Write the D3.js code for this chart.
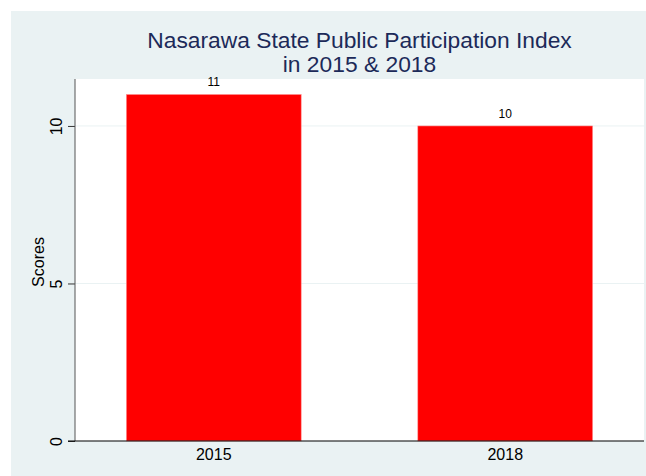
<!DOCTYPE html>
<html>
<head>
<meta charset="utf-8">
<script src="https://cdn.jsdelivr.net/npm/d3@7"></script>
<style>
  html, body { margin: 0; padding: 0; background: #ffffff; }
  svg { display: block; font-family: "Liberation Sans", Arial, Helvetica, sans-serif; }
</style>
</head>
<body>
<svg id="chart" width="646" height="476"></svg>
<script>
const categories = ["2015", "2018"];
const scores = [11, 10];
const yTicks = [0, 5, 10];
const titleLines = ["Nasarawa State Public Participation Index", "in 2015 & 2018"];
const yAxisTitle = "Scores";

const svg = d3.select("#chart");
const W = 646, H = 476;
const plot = { left: 75, right: 644, top: 79, bottom: 441 };

// outer background
svg.append("rect").attr("x", 11).attr("y", 11).attr("width", W - 11).attr("height", H - 11)
  .attr("fill", "#EAF2F3");
// plot region
svg.append("rect").attr("x", plot.left).attr("y", plot.top)
  .attr("width", plot.right - plot.left).attr("height", plot.bottom - plot.top)
  .attr("fill", "#ffffff");

const y = d3.scaleLinear().domain([0, 11.49]).range([plot.bottom, plot.top]);
const x = d3.scaleBand().domain(categories).range([plot.left, plot.right])
  .paddingInner(0.4).paddingOuter(0.176);

// gridlines
svg.append("g").selectAll("line").data(yTicks.filter(d => d > 0)).join("line")
  .attr("x1", plot.left).attr("x2", plot.right)
  .attr("y1", d => y(d)).attr("y2", d => y(d))
  .attr("stroke", "#EAF2F3").attr("stroke-width", 1);

// bars
svg.append("g").selectAll("rect").data(scores).join("rect")
  .attr("x", (d, i) => x(categories[i]))
  .attr("y", d => y(d))
  .attr("width", x.bandwidth())
  .attr("height", d => y(0) - y(d))
  .attr("fill", "#ff0000")
  .attr("stroke", "#ff9a9a").attr("stroke-width", 0.6);

// bar labels
svg.append("g").selectAll("text").data(scores).join("text")
  .attr("x", (d, i) => x(categories[i]) + x.bandwidth() / 2)
  .attr("y", d => y(d) - 8)
  .attr("text-anchor", "middle")
  .attr("font-size", 12).attr("fill", "#000")
  .text(d => d);

// y axis
const yAxis = d3.axisLeft(y).tickValues(yTicks).tickSize(7).tickPadding(6).tickFormat(d3.format("d"));
const gy = svg.append("g").attr("transform", `translate(${plot.left},0)`).call(yAxis);
gy.select(".domain").remove();
gy.append("line").attr("x1", 0).attr("x2", 0).attr("y1", plot.top).attr("y2", plot.bottom)
  .attr("stroke", "#555555").attr("stroke-width", 1);
gy.selectAll(".tick line").attr("stroke", "#333");
gy.selectAll(".tick text")
  .attr("font-size", 16).attr("fill", "#000")
  .attr("font-family", "Liberation Sans, Arial, sans-serif")
  .attr("text-anchor", "middle")
  .attr("dy", null)
  .attr("x", null)
  .attr("transform", "translate(-13,0) rotate(-90)");

// x axis
const xAxis = d3.axisBottom(x).tickSize(0).tickPadding(8);
const gx = svg.append("g").attr("transform", `translate(0,${plot.bottom})`).call(xAxis);
gx.select(".domain").remove();
gx.append("line").attr("x1", 68).attr("x2", plot.right).attr("y1", 0).attr("y2", 0)
  .attr("stroke", "#000").attr("stroke-width", 1.2);
gx.selectAll(".tick text").attr("font-size", 16).attr("fill", "#000")
  .attr("font-family", "Liberation Sans, Arial, sans-serif")
  .attr("dy", null).attr("y", 19);

// y axis title
svg.append("text")
  .attr("transform", `translate(44,${(plot.top + plot.bottom) / 2 + 2}) rotate(-90)`)
  .attr("text-anchor", "middle").attr("font-size", 16).attr("fill", "#000")
  .text(yAxisTitle);

// title
const cx = (plot.left + plot.right) / 2;
svg.append("g").selectAll("text").data(titleLines).join("text")
  .attr("x", cx).attr("y", (d, i) => 48 + i * 24)
  .attr("text-anchor", "middle").attr("font-size", 22.8).attr("fill", "#1c2a59")
  .text(d => d);
</script>
</body>
</html>
